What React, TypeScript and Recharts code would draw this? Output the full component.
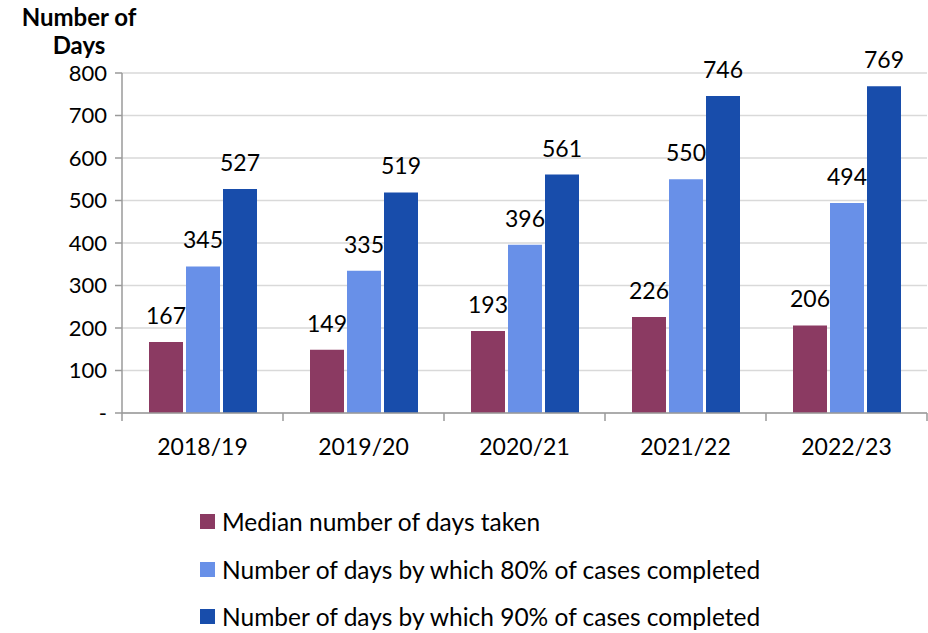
import React from 'react';
import { Bar, BarChart, CartesianGrid, LabelList, Legend, XAxis, YAxis } from 'recharts';

const years = ['2018/19', '2019/20', '2020/21', '2021/22', '2022/23'];
const median = [167, 149, 193, 226, 206];
const pct80 = [345, 335, 396, 550, 494];
const pct90 = [527, 519, 561, 746, 769];
const yTicks = [0, 100, 200, 300, 400, 500, 600, 700, 800];

const series = [
  { key: 'median', name: 'Median number of days taken', color: '#8B3A62' },
  { key: 'p80', name: 'Number of days by which 80% of cases completed', color: '#6890E8' },
  { key: 'p90', name: 'Number of days by which 90% of cases completed', color: '#184DAB' },
];

const data = years.map((y, i) => ({ year: y, median: median[i], p80: pct80[i], p90: pct90[i] }));

const FONT = 'Lato, "Open Sans", sans-serif';
const AXIS = '#9A9A9A';
const GRID = '#D9D9D9';

function XTick(props: any) {
  const { x, y, payload, width, index } = props;
  const band = width / years.length;
  return (
    <g>
      <line x1={x - band / 2} x2={x - band / 2} y1={y - 8} y2={y} stroke={AXIS} strokeWidth={1.5} />
      {index === years.length - 1 && (
        <line x1={x + band / 2} x2={x + band / 2} y1={y - 8} y2={y} stroke={AXIS} strokeWidth={1.5} />
      )}
      <text x={x} y={y + 34} textAnchor="middle" fill="#000" fontSize={23} fontFamily={FONT}>
        {payload.value}
      </text>
    </g>
  );
}

function LegendList() {
  return (
    <div style={{ fontFamily: FONT, fontSize: 24.5, color: '#000' }}>
      {series.map((s) => (
        <div key={s.key} style={{ display: 'flex', alignItems: 'center', height: 47.5 }}>
          <span style={{ width: 15, height: 15, background: s.color, marginRight: 7, display: 'inline-block' }} />
          <span>{s.name}</span>
        </div>
      ))}
    </div>
  );
}

const titleStyle: React.CSSProperties = {
  position: 'absolute',
  left: 0,
  width: 158,
  textAlign: 'center',
  fontFamily: FONT,
  fontWeight: 700,
  fontSize: 24,
  zIndex: 1,
};

export default function App() {
  return (
    <div style={{ position: 'absolute', left: 0, top: 0, width: 928, height: 633, background: '#fff' }}>
      <div style={{ ...titleStyle, top: 4, lineHeight: '26px' }}>Number of</div>
      <div style={{ ...titleStyle, top: 34, lineHeight: '22px' }}>Days</div>
      <BarChart
        width={928}
        height={633}
        data={data}
        margin={{ top: 73, right: 1, left: 0, bottom: 160 }}
        barCategoryGap={26}
        barGap={3}
      >
        <CartesianGrid vertical={false} stroke={GRID} strokeWidth={1.5} />
        <XAxis
          dataKey="year"
          height={60}
          axisLine={{ stroke: AXIS, strokeWidth: 1.5 }}
          tickLine={false}
          tickSize={8}
          tickMargin={0}
          tick={<XTick />}
          interval={0}
        />
        <YAxis
          width={122}
          domain={[0, 800]}
          ticks={yTicks}
          interval={0}
          axisLine={{ stroke: AXIS, strokeWidth: 1.5 }}
          tickLine={{ stroke: AXIS, strokeWidth: 1.5 }}
          tickSize={7}
          tickMargin={8}
          tick={{ fill: '#000', fontSize: 22, fontFamily: FONT }}
          tickFormatter={(v: number) => (v === 0 ? '-' : String(v))}
        />
        <Legend
          layout="horizontal"
          verticalAlign="middle"
          align="center"
          wrapperStyle={{ left: 200, top: 498, width: 720 }}
          content={() => <LegendList />}
        />
        {series.map((s) => (
          <Bar key={s.key} dataKey={s.key} name={s.name} fill={s.color} barSize={34} isAnimationActive={false}>
            <LabelList dataKey={s.key} position="top" offset={18} fill="#000" fontSize={23} fontFamily={FONT} />
          </Bar>
        ))}
      </BarChart>
    </div>
  );
}
